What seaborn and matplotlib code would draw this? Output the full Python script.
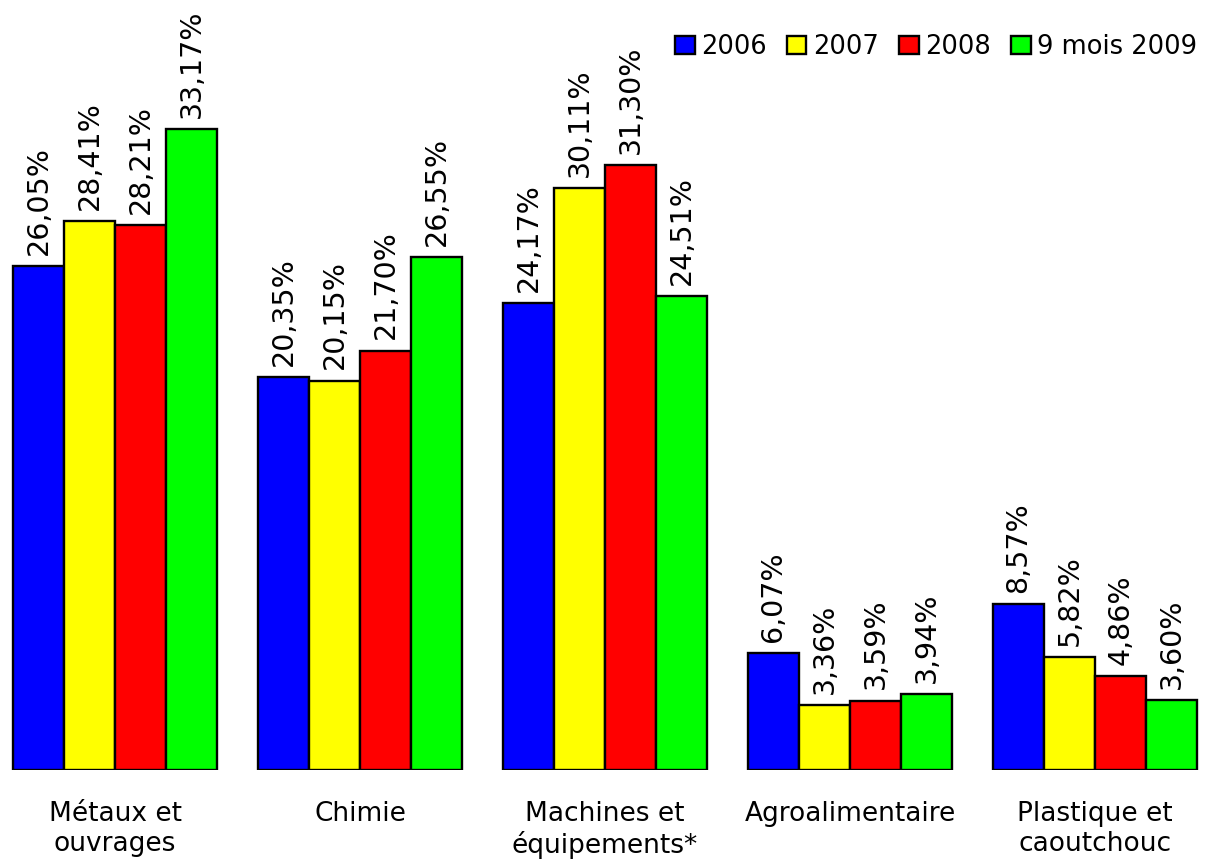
import pandas as pd
import matplotlib
matplotlib.use('Agg')
import matplotlib.pyplot as plt
import seaborn as sns

# Data
categories = ['Métaux et\nouvrages', 'Chimie', 'Machines et\néquipements*',
              'Agroalimentaire', 'Plastique et\ncaoutchouc']
years = ['2006', '2007', '2008', '9 mois 2009']
v2006 = [26.05, 20.35, 24.17, 6.07, 8.57]
v2007 = [28.41, 20.15, 30.11, 3.36, 5.82]
v2008 = [28.21, 21.70, 31.30, 3.59, 4.86]
v2009 = [33.17, 26.55, 24.51, 3.94, 3.60]
colors = ['#0000FF', '#FFFF00', '#FF0000', '#00FF00']

rows = []
for year, vals in zip(years, [v2006, v2007, v2008, v2009]):
    for cat, v in zip(categories, vals):
        rows.append({'cat': cat, 'year': year, 'val': v})
df = pd.DataFrame(rows)

sns.set_style('white')
plt.rcParams['font.family'] = ['DejaVu Sans']
plt.rcParams['text.color'] = 'black'
plt.rcParams['xtick.color'] = 'black'

fig = plt.figure(figsize=(12.15, 8.6), dpi=100)
ax = fig.add_axes([0, 90 / 860, 1, 770 / 860])

sns.barplot(data=df, x='cat', y='val', hue='year', palette=colors,
            width=0.833, edgecolor='black', linewidth=1.7, saturation=1,
            errorbar=None, ax=ax)

for cont in ax.containers:
    labels = [f'{b.get_height():.2f}%'.replace('.', ',') for b in cont]
    ax.bar_label(cont, labels=labels, rotation=90, padding=8, fontsize=20.5,
                 color='black')

ax.set_xlim((0 - 115) / 245, (1215 - 115) / 245)
ax.set_ylim(0, 770 / 19.33)
ax.set_xlabel('')
ax.set_ylabel('')
ax.set_yticks([])
ax.tick_params(axis='x', length=0, labelsize=19, pad=22, labelcolor='black')
for s in ax.spines.values():
    s.set_visible(False)

leg = ax.legend(loc='upper right', bbox_to_anchor=(1.0, 1.0 - 16 / 770), ncol=4,
                frameon=False, fontsize=18.5, handlelength=0.75, handleheight=0.75,
                handletextpad=0.25, columnspacing=0.8, borderaxespad=0.3)
for t in leg.get_texts():
    t.set_color('black')

fig.savefig('out.png', dpi=100)
plt.close()
